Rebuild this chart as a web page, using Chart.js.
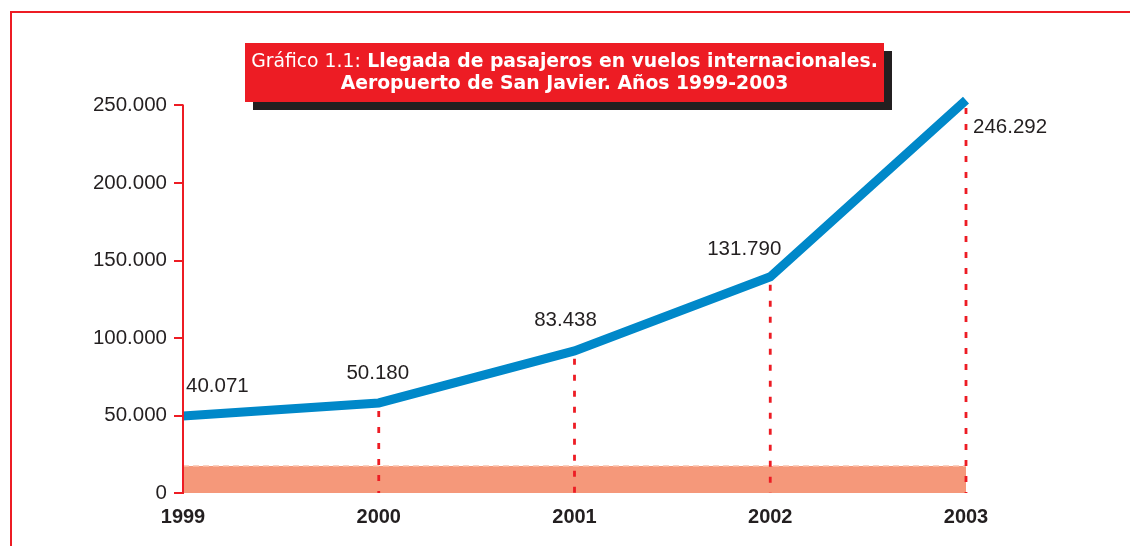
<!DOCTYPE html>
<html>
<head>
<meta charset="utf-8">
<script src="https://cdn.jsdelivr.net/npm/chart.js@4.4.1/dist/chart.umd.min.js"></script>
<style>
  body { margin: 0; background: #fff; }
  #wrap { position: relative; width: 1130px; height: 546px; overflow: hidden; }
  #title-box {
    position: absolute; left: 245px; top: 43px; width: 639px; height: 59px;
    background: #ed1c24; box-shadow: 8px 8px 0 #231f20;
    color: #fff; text-align: center; white-space: nowrap;
    font-family: "DejaVu Sans", sans-serif; font-size: 18.8px; font-weight: bold;
    line-height: 22px; padding-top: 7px; box-sizing: border-box;
  }
  #title-box .plain { font-weight: normal; }
</style>
</head>
<body>
<div id="wrap">
  <canvas id="chart" width="1130" height="546"></canvas>
  <div id="title-box"><span class="plain">Gráfico 1.1:</span> Llegada de pasajeros en vuelos internacionales.<br>Aeropuerto de San Javier. Años 1999-2003</div>
</div>
<script>
// values as drawn on the picture (line position) and as printed (labels)
const years = ['1999', '2000', '2001', '2002', '2003'];
const plottedValues = [49700, 58100, 91700, 139500, 253500];
const labelValues = [40071, 50180, 83438, 131790, 246292];
const baseBand = [17400, 17400, 17400, 17400, 17400];
const yTicks = [0, 50000, 100000, 150000, 200000, 250000];

const RED = '#ed1c24';
const INK = '#231f20';

// where each value label sits relative to its point: [dx, dy, align]
const labelPlacement = [
  [3, -30, 'left'],
  [-1, -30, 'center'],
  [-9, -31, 'center'],
  [-26, -27, 'center'],
  [7, 27, 'left'],
];

function fmt(v) {
  return String(v).replace(/\B(?=(\d{3})+(?!\d))/g, '.');
}

const framePlugin = {
  id: 'frame',
  beforeDraw(chart) {
    const ctx = chart.ctx;
    ctx.save();
    ctx.strokeStyle = RED;
    ctx.lineWidth = 2;
    ctx.beginPath();
    ctx.moveTo(11, 546);
    ctx.lineTo(11, 12);
    ctx.lineTo(1130, 12);
    ctx.stroke();
    ctx.restore();
  }
};

// y axis line only runs from 0 up to the last tick
const axisLinePlugin = {
  id: 'axisLine',
  afterDraw(chart) {
    const y = chart.scales.y;
    const ctx = chart.ctx;
    ctx.save();
    ctx.strokeStyle = RED;
    ctx.lineWidth = 2;
    ctx.beginPath();
    ctx.moveTo(y.right, y.getPixelForValue(yTicks[yTicks.length - 1]) - 1);
    ctx.lineTo(y.right, y.getPixelForValue(0) + 1);
    ctx.stroke();
    ctx.restore();
  }
};

const dropLinesPlugin = {
  id: 'dropLines',
  afterDatasetsDraw(chart) {
    const ctx = chart.ctx;
    const meta = chart.getDatasetMeta(0);
    const bottom = chart.scales.y.getPixelForValue(0);
    ctx.save();
    ctx.strokeStyle = RED;
    ctx.lineWidth = 2.8;
    ctx.setLineDash([6, 10]);
    meta.data.forEach((pt, i) => {
      if (i === 0) return;
      ctx.beginPath();
      ctx.moveTo(pt.x, pt.y + 8);
      ctx.lineTo(pt.x, bottom);
      ctx.stroke();
    });
    ctx.restore();
  }
};

const valueLabelsPlugin = {
  id: 'valueLabels',
  afterDatasetsDraw(chart) {
    const ctx = chart.ctx;
    const meta = chart.getDatasetMeta(0);
    ctx.save();
    ctx.fillStyle = INK;
    ctx.font = '20.5px "Liberation Sans", Arial, sans-serif';
    ctx.textBaseline = 'middle';
    meta.data.forEach((pt, i) => {
      const [dx, dy, align] = labelPlacement[i];
      ctx.textAlign = align;
      ctx.fillText(fmt(labelValues[i]), pt.x + dx, pt.y + dy);
    });
    ctx.restore();
  }
};

new Chart(document.getElementById('chart'), {
  type: 'line',
  data: {
    labels: years,
    datasets: [
      {
        data: plottedValues,
        borderColor: '#0088c9',
        borderWidth: 9,
        borderJoinStyle: 'miter',
        pointRadius: 0,
        tension: 0,
        fill: false,
        order: 0
      },
      {
        data: baseBand,
        borderColor: '#fbc2ad',
        borderWidth: 1.5,
        borderDash: [6, 4],
        backgroundColor: '#f5987a',
        pointRadius: 0,
        fill: 'origin',
        order: 1
      }
    ]
  },
  options: {
    responsive: false,
    animation: false,
    layout: { padding: { left: 0, right: 164, top: 90, bottom: 0 } },
    plugins: {
      legend: { display: false },
      tooltip: { enabled: false },
      title: { display: false }
    },
    scales: {
      x: {
        offset: false,
        grid: { display: false, drawTicks: false },
        border: { display: false },
        ticks: {
          color: INK,
          padding: 12,
          maxRotation: 0,
          font: { family: '"Liberation Sans", Arial, sans-serif', size: 20, weight: 'bold' }
        },
        afterFit(scale) { scale.height = 53; }
      },
      y: {
        min: 0,
        max: 260000,
        afterBuildTicks(scale) { scale.ticks = yTicks.map(v => ({ value: v })); },
        grid: { drawOnChartArea: false, drawTicks: true, tickLength: 9, color: RED, lineWidth: 2 },
        border: { display: false },
        ticks: {
          color: INK,
          padding: 7,
          font: { family: '"Liberation Sans", Arial, sans-serif', size: 20.5 },
          callback: v => fmt(v)
        },
        afterFit(scale) { scale.width = 183; }
      }
    }
  },
  plugins: [framePlugin, axisLinePlugin, dropLinesPlugin, valueLabelsPlugin]
});
</script>
</body>
</html>
